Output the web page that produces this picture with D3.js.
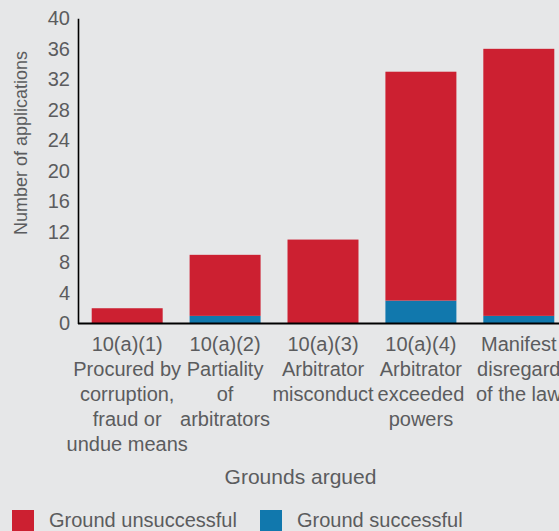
<!DOCTYPE html>
<html>
<head>
<meta charset="utf-8">
<script src="https://cdn.jsdelivr.net/npm/d3@7"></script>
<style>
  html, body { margin: 0; padding: 0; background: #e6e7e8; }
  svg { display: block; }
  text { font-family: "Liberation Sans", Arial, Helvetica, sans-serif; fill: #5b5c5e; }
</style>
</head>
<body>
<svg id="chart" width="559" height="531"></svg>
<script>
// Grounds argued in vacatur applications, split by outcome
const categories = [
  ["10(a)(1)", "Procured by", "corruption,", "fraud or", "undue means"],
  ["10(a)(2)", "Partiality", "of", "arbitrators"],
  ["10(a)(3)", "Arbitrator", "misconduct"],
  ["10(a)(4)", "Arbitrator", "exceeded", "powers"],
  ["Manifest", "disregard", "of the law"]
];
const successful   = [0, 1, 0, 3, 1];
const unsuccessful = [2, 8, 11, 30, 35];
const yTicks = [0, 4, 8, 12, 16, 20, 24, 28, 32, 36, 40];
const seriesNames = ["Ground unsuccessful", "Ground successful"];
const seriesColors = ["#cc2031", "#1178ad"];

const svg = d3.select("#chart");
const plotLeft = 78, plotRight = 568, plotTop = 18.3, plotBottom = 323.5;

const x = d3.scaleBand()
  .domain(d3.range(categories.length))
  .range([plotLeft, plotRight])
  .paddingInner(0.275)
  .paddingOuter(0.14);

const y = d3.scaleLinear().domain([0, 40]).range([plotBottom, plotTop]);

// stacked rows: successful at the base, unsuccessful on top
const rows = categories.map((c, i) => ({ i, successful: successful[i], unsuccessful: unsuccessful[i] }));
const stack = d3.stack().keys(["successful", "unsuccessful"])(rows);
const colorOf = { successful: seriesColors[1], unsuccessful: seriesColors[0] };

svg.append("g").selectAll("g")
  .data(stack)
  .join("g")
  .attr("fill", d => colorOf[d.key])
  .selectAll("rect")
  .data(d => d)
  .join("rect")
  .attr("x", d => x(d.data.i))
  .attr("width", x.bandwidth())
  .attr("y", d => y(d[1]))
  .attr("height", d => y(d[0]) - y(d[1]));

// y axis with labels only
const yAxis = svg.append("g")
  .attr("transform", `translate(${plotLeft},0)`)
  .call(d3.axisLeft(y).tickValues(yTicks).tickSize(0).tickPadding(8));
yAxis.select(".domain").attr("stroke", "#000").attr("stroke-width", 1.6);
yAxis.selectAll("text").attr("font-size", 20).attr("fill", "#5b5c5e")
  .style("font-family", '"Liberation Sans", Arial, sans-serif');

// x baseline
svg.append("line")
  .attr("x1", plotLeft).attr("x2", 559)
  .attr("y1", plotBottom).attr("y2", plotBottom)
  .attr("stroke", "#000").attr("stroke-width", 2);

// category labels, multi-line
const labels = svg.append("g").selectAll("text")
  .data(categories)
  .join("text")
  .attr("text-anchor", "middle")
  .attr("font-size", 20)
  .attr("x", (d, i) => x(i) + x.bandwidth() / 2)
  .attr("y", 351);
labels.selectAll("tspan")
  .data(d => d)
  .join("tspan")
  .attr("x", function () { return this.parentNode.getAttribute("x"); })
  .attr("dy", (d, j) => j === 0 ? 0 : 25)
  .text(d => d);

// axis titles
svg.append("text")
  .attr("text-anchor", "middle")
  .attr("font-size", 18)
  .attr("transform", "translate(27,143) rotate(-90)")
  .text("Number of applications");

svg.append("text")
  .attr("text-anchor", "middle")
  .attr("font-size", 21)
  .attr("x", 300.5)
  .attr("y", 484)
  .text("Grounds argued");

// legend
const legendX = [12, 260];
const legend = svg.append("g").selectAll("g")
  .data(seriesNames)
  .join("g")
  .attr("transform", (d, i) => `translate(${legendX[i]},510)`);
legend.append("rect")
  .attr("width", 22).attr("height", 22)
  .attr("fill", (d, i) => seriesColors[i]);
legend.append("text")
  .attr("x", 37).attr("y", 17)
  .attr("font-size", 20)
  .text(d => d);
</script>
</body>
</html>
